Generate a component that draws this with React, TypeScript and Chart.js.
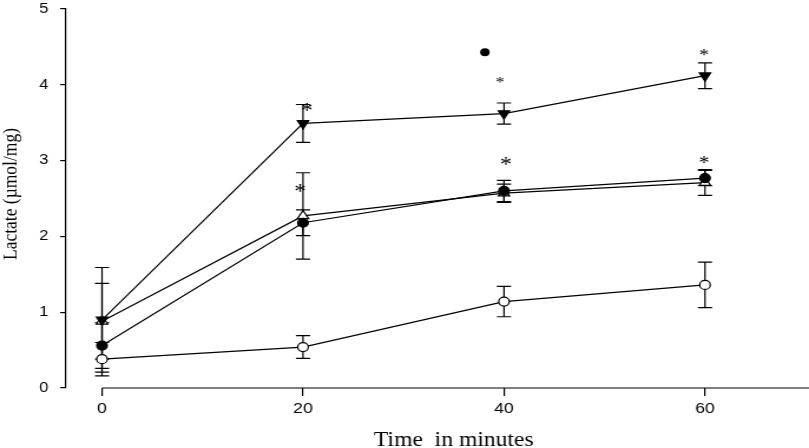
import React, { useEffect, useRef } from "react";
import { Chart, registerables } from "chart.js";

Chart.register(...registerables);

// ---- data ----
const times = [0, 20, 40, 60];
const xTickValues = [0, 20, 40, 60];
const yTickValues = [0, 1, 2, 3, 4, 5];

const downTriMean = [0.9, 3.49, 3.62, 4.12];
const downTriErr = [0.69, 0.25, 0.14, 0.17];

const filledCircleMean = [0.56, 2.18, 2.6, 2.77];
const filledCircleErr = [0.3, 0.17, 0.14, 0.1];

const openTriMean = [0.88, 2.27, 2.57, 2.71];
const openTriErr = [0.5, 0.57, 0.12, 0.17];

const openCircleMean = [0.38, 0.54, 1.14, 1.36];
const openCircleErr = [0.22, 0.15, 0.2, 0.3];

// significance marks
const starX = [20.4, 19.7, 39.6, 40.2, 59.9, 59.9];
const starY = [3.71, 2.64, 4.06, 3.0, 4.42, 3.01];
const dotX = [38.1];
const dotY = [4.43];

const xTitle = "Time  in minutes";
const yTitle = "Lactate (\u00b5mol/mg)";

// style-only
const starFontSizes = [20, 20, 15, 20, 17, 18];

const INNER_W = 686;
const OUTER_W = 809;
const H = 448;

export default function App() {
  const ref = useRef<HTMLCanvasElement>(null);

  useEffect(() => {
    const canvas = ref.current;
    if (!canvas) return;

    const toPts = (ys: number[]) => times.map((t, i) => ({ x: t, y: ys[i] }));

    const errorBars = {
      id: "errorBars",
      beforeDatasetsDraw(chart: any) {
        const { ctx, scales } = chart;
        const x = scales.x;
        const y = scales.y;
        ctx.save();
        ctx.strokeStyle = "#000";
        ctx.lineWidth = 1.2;
        chart.data.datasets.forEach((ds: any) => {
          if (!ds.errors) return;
          ds.data.forEach((p: any, i: number) => {
            const e = ds.errors[i];
            const px = x.getPixelForValue(p.x);
            const top = y.getPixelForValue(p.y + e);
            const bot = y.getPixelForValue(p.y - e);
            const cw = 6;
            ctx.beginPath();
            ctx.moveTo(px, top);
            ctx.lineTo(px, bot);
            ctx.moveTo(px - cw, top);
            ctx.lineTo(px + cw, top);
            ctx.moveTo(px - cw, bot);
            ctx.lineTo(px + cw, bot);
            ctx.stroke();
          });
        });
        ctx.restore();
      },
    };

    const extras = {
      id: "extras",
      afterDraw(chart: any) {
        const { ctx, scales, chartArea } = chart;
        const x = scales.x;
        const y = scales.y;
        ctx.save();
        // x axis line (starts at x = 0, as in the reference)
        ctx.strokeStyle = "#000";
        ctx.lineWidth = 1.2;
        ctx.beginPath();
        ctx.moveTo(x.getPixelForValue(0), chartArea.bottom);
        ctx.lineTo(chart.width, chartArea.bottom);
        ctx.stroke();

        // asterisks
        ctx.fillStyle = "#000";
        ctx.textAlign = "center";
        ctx.textBaseline = "alphabetic";
        starX.forEach((sx, i) => {
          ctx.font = `${starFontSizes[i]}px "Liberation Serif"`;
          const m = ctx.measureText("*");
          const off = (m.actualBoundingBoxAscent - m.actualBoundingBoxDescent) / 2;
          ctx.fillText("*", x.getPixelForValue(sx), y.getPixelForValue(starY[i]) + off);
        });

        // x title
        ctx.font = '20px "Liberation Serif"';
        ctx.textAlign = "center";
        ctx.textBaseline = "alphabetic";
        ctx.fillText(xTitle, x.getPixelForValue(35), 446);

        // y title
        ctx.font = '17.5px "Liberation Serif"';
        ctx.translate(9, 194);
        ctx.rotate(-Math.PI / 2);
        ctx.textAlign = "center";
        ctx.textBaseline = "middle";
        ctx.fillText(yTitle, 0, 0);
        ctx.restore();
      },
    };

    const common = {
      showLine: true,
      borderColor: "#000",
      borderWidth: 1.2,
      pointBorderColor: "#000",
      pointBorderWidth: 1.2,
      pointHoverRadius: 0,
    };

    const chart = new Chart(canvas, {
      type: "scatter",
      data: {
        datasets: [
          {
            ...common,
            label: "down triangle",
            data: toPts(downTriMean),
            errors: downTriErr,
            pointStyle: "triangle",
            rotation: 180,
            pointRotation: 180,
            pointRadius: 5.5,
            pointBackgroundColor: "#000",
          } as any,
          {
            ...common,
            label: "filled circle",
            data: toPts(filledCircleMean),
            errors: filledCircleErr,
            pointStyle: "circle",
            pointRadius: 4.5,
            pointBackgroundColor: "#000",
          } as any,
          {
            ...common,
            label: "open triangle",
            data: toPts(openTriMean),
            errors: openTriErr,
            pointStyle: "triangle",
            pointRadius: 5.5,
            pointBackgroundColor: "#fff",
          } as any,
          {
            ...common,
            label: "open circle",
            data: toPts(openCircleMean),
            errors: openCircleErr,
            pointStyle: "circle",
            pointRadius: 4.5,
            pointBackgroundColor: "#fff",
          } as any,
          {
            label: "dot",
            data: dotX.map((v, i) => ({ x: v, y: dotY[i] })),
            showLine: false,
            pointStyle: "circle",
            pointRadius: 4,
            pointBackgroundColor: "#000",
            pointBorderColor: "#000",
            pointBorderWidth: 0,
          } as any,
        ],
      },
      options: {
        responsive: false,
        animation: false,
        devicePixelRatio: 1,
        layout: { autoPadding: false, padding: { top: 9, right: 0, left: 0, bottom: 0 } },
        plugins: {
          legend: { display: false },
          tooltip: { enabled: false },
        },
        events: [],
        scales: {
          x: {
            type: "linear",
            min: -3.58,
            max: 70.35,
            afterFit: (s: any) => {
              s.height = 60;
              s.paddingLeft = 0;
              s.paddingRight = 0;
              s.paddingTop = 0;
              s.paddingBottom = 0;
            },
            afterBuildTicks: (s: any) => {
              s.ticks = xTickValues.map((v) => ({ value: v }));
            },
            grid: {
              display: true,
              drawOnChartArea: false,
              drawTicks: true,
              tickLength: 8,
              color: "#000",
              lineWidth: 1.2,
            },
            border: { display: false },
            ticks: {
              color: "#000",
              font: { family: "Liberation Sans", size: 15 },
              padding: 4,
              maxRotation: 0,
              autoSkip: false,
              callback: (v: any) => String(v),
            },
          },
          y: {
            type: "linear",
            min: 0,
            max: 5,
            afterFit: (s: any) => {
              s.width = 56;
              s.paddingLeft = 0;
              s.paddingRight = 0;
              s.paddingTop = 0;
              s.paddingBottom = 0;
            },
            afterBuildTicks: (s: any) => {
              s.ticks = yTickValues.map((v) => ({ value: v }));
            },
            grid: {
              display: true,
              drawOnChartArea: false,
              drawTicks: true,
              tickLength: 5,
              color: "#000",
              lineWidth: 1.2,
            },
            border: { display: true, color: "#000", width: 1.2 },
            ticks: {
              color: "#000",
              font: { family: "Liberation Sans", size: 14 },
              padding: 10,
              autoSkip: false,
              callback: (v: any) => String(v),
            },
          },
        },
      } as any,
      plugins: [errorBars, extras],
    } as any);

    return () => {
      chart.destroy();
    };
  }, []);

  return (
    <div style={{ position: "fixed", left: 0, top: 0, width: OUTER_W, height: H, background: "#fff" }}>
      <canvas
        ref={ref}
        width={INNER_W}
        height={H}
        style={{ width: `${OUTER_W}px`, height: `${H}px`, display: "block" }}
      />
    </div>
  );
}
